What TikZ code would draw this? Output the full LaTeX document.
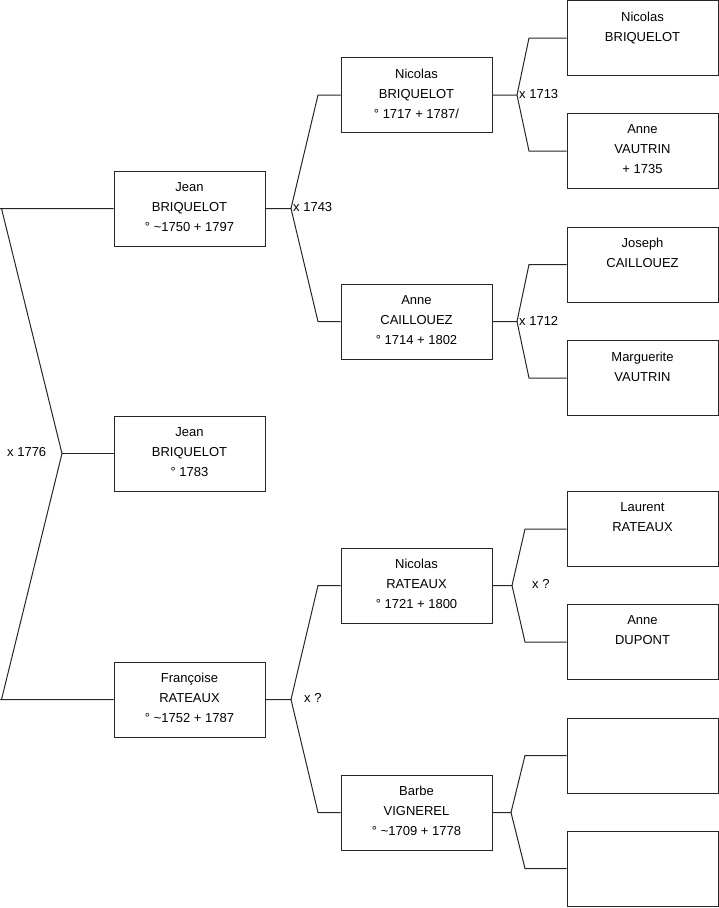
\documentclass[tikz,border=0pt]{standalone}
\usepackage{fontspec}
\setmainfont{Liberation Sans}
\begin{document}
\begin{tikzpicture}[x=1pt,y=-1pt,
  person/.style={draw=black!85,line width=1pt,rectangle,minimum width=151pt,minimum height=75pt,inner sep=0pt},
  ptext/.style={anchor=north,align=center,inner sep=0pt,font=\fontsize{13}{20}\selectfont},
  link/.style={draw=black!85,line width=1pt},
  mlabel/.style={anchor=west,inner sep=0pt,font=\fontsize{13}{15}\selectfont}]
\useasboundingbox (0,0) rectangle (719,908);
% column 1
\node[person] (jb)  at (189.5,208.5) {};
\node[person] (jb2) at (189.5,453.5) {};
\node[person] (fr)  at (189.5,699.5) {};
% column 2
\node[person] (nb)  at (416.5,95) {};
\node[person] (ac)  at (416.5,321.5) {};
\node[person] (nr)  at (416.5,585.5) {};
\node[person] (bv)  at (416.5,812.5) {};
% column 3
\node[person] (nb3) at (642.5,38) {};
\node[person] (av)  at (642.5,151) {};
\node[person] (jc)  at (642.5,264.5) {};
\node[person] (mv)  at (642.5,378) {};
\node[person] (lr)  at (642.5,529) {};
\node[person] (ad)  at (642.5,642) {};
\node[person] (e1)  at (642.5,755.5) {};
\node[person] (e2)  at (642.5,868.5) {};
% texts
\node[ptext] at ([yshift=-11.5pt]jb.north)  {Jean\\BRIQUELOT\\° \textasciitilde1750 + 1797};
\node[ptext] at ([yshift=-11.5pt]jb2.north) {Jean\\BRIQUELOT\\° 1783};
\node[ptext] at ([yshift=-11.5pt]fr.north)  {Françoise\\RATEAUX\\° \textasciitilde1752 + 1787};
\node[ptext] at ([yshift=-11.5pt]nb.north)  {Nicolas\\BRIQUELOT\\° 1717 + 1787/};
\node[ptext] at ([yshift=-11.5pt]ac.north)  {Anne\\CAILLOUEZ\\° 1714 + 1802};
\node[ptext] at ([yshift=-11.5pt]nr.north)  {Nicolas\\RATEAUX\\° 1721 + 1800};
\node[ptext] at ([yshift=-11.5pt]bv.north)  {Barbe\\VIGNEREL\\° \textasciitilde1709 + 1778};
\node[ptext] at ([yshift=-11.5pt]nb3.north) {Nicolas\\BRIQUELOT};
\node[ptext] at ([yshift=-11.5pt]av.north)  {Anne\\VAUTRIN\\+ 1735};
\node[ptext] at ([yshift=-11.5pt]jc.north)  {Joseph\\CAILLOUEZ};
\node[ptext] at ([yshift=-11.5pt]mv.north)  {Marguerite\\VAUTRIN};
\node[ptext] at ([yshift=-11.5pt]lr.north)  {Laurent\\RATEAUX};
\node[ptext] at ([yshift=-11.5pt]ad.north)  {Anne\\DUPONT};
% fork points
\coordinate (a0) at (62,453.5);
\coordinate (l0a) at (1.5,208.5);
\coordinate (l0b) at (1.5,699.5);
\coordinate (a1) at (291,208.5);
\coordinate (a1a) at (318,95);
\coordinate (a1b) at (318,321.5);
\coordinate (a2) at (291,699.5);
\coordinate (a2a) at (318,585.5);
\coordinate (a2b) at (318,812.5);
\coordinate (a3) at (517,95);
\coordinate (a3a) at (529,38);
\coordinate (a3b) at (529,151);
\coordinate (a4) at (517,321.5);
\coordinate (a4a) at (529,264.5);
\coordinate (a4b) at (529,378);
\coordinate (a5) at (512,585.5);
\coordinate (a5a) at (525,529);
\coordinate (a5b) at (525,642);
\coordinate (a6) at (511,812.5);
\coordinate (a6a) at (525,755.5);
\coordinate (a6b) at (525,868.5);
% connectors
\draw[link] (jb.west) -- (0,208.5) (l0a) -- (a0) -- (l0b) (0,699.5) -- (fr.west);
\draw[link] (a0) -- (jb2.west);
\draw[link] (jb.east) -- (a1) -- (a1a) -- (nb.west);
\draw[link] (a1) -- (a1b) -- (ac.west);
\draw[link] (fr.east) -- (a2) -- (a2a) -- (nr.west);
\draw[link] (a2) -- (a2b) -- (bv.west);
\draw[link] (nb.east) -- (a3) -- (a3a) -- (nb3.west);
\draw[link] (a3) -- (a3b) -- (av.west);
\draw[link] (ac.east) -- (a4) -- (a4a) -- (jc.west);
\draw[link] (a4) -- (a4b) -- (mv.west);
\draw[link] (nr.east) -- (a5) -- (a5a) -- (lr.west);
\draw[link] (a5) -- (a5b) -- (ad.west);
\draw[link] (bv.east) -- (a6) -- (a6a) -- (e1.west);
\draw[link] (a6) -- (a6b) -- (e2.west);
% marriage labels
\node[mlabel] (m0) at (7,452) {x 1776};
\node[mlabel] (m1) at (293,207.5) {x 1743};
\node[mlabel] (m2) at (304,698) {x ?};
\node[mlabel] (m3) at (519,94) {x 1713};
\node[mlabel] (m4) at (519,320.5) {x 1712};
\node[mlabel] (m5) at (532,583.5) {x ?};
\end{tikzpicture}
\end{document}
